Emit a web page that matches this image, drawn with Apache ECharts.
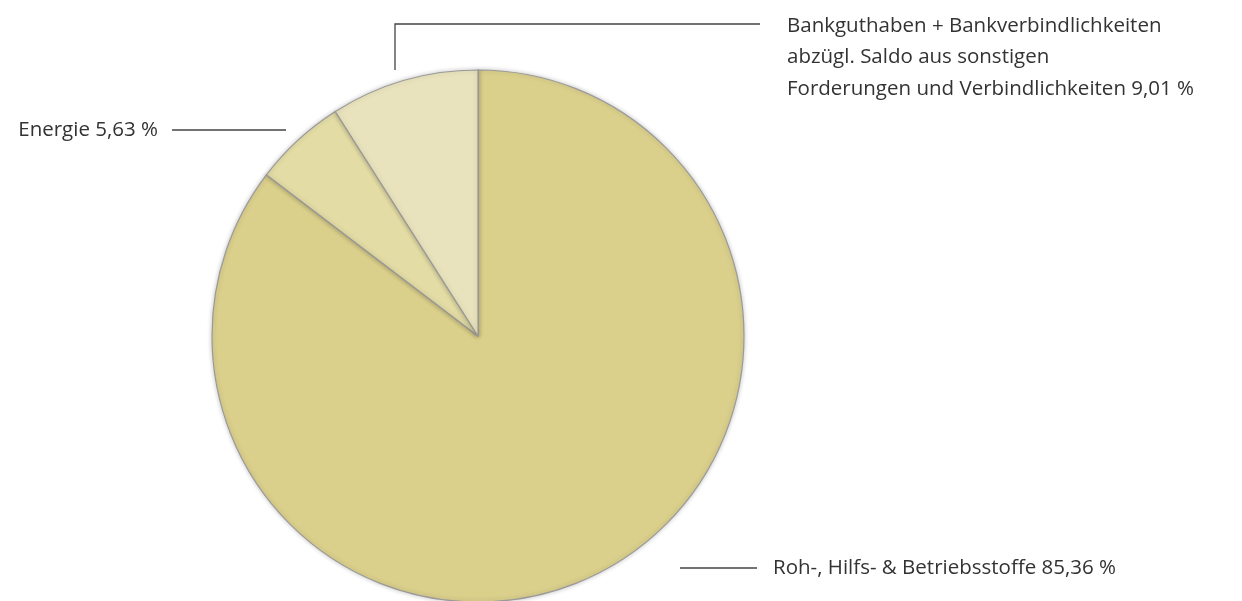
<!DOCTYPE html>
<html>
<head>
<meta charset="utf-8">
<script src="https://cdn.jsdelivr.net/npm/echarts@6/dist/echarts.min.js"></script>
<style>
  html, body { margin: 0; padding: 0; background: #fff; }
  #chart { width: 1242px; height: 601px; }
</style>
</head>
<body>
<div id="chart"></div>
<script>
const categories = [
  "Roh-, Hilfs- & Betriebsstoffe",
  "Energie",
  "Bankguthaben + Bankverbindlichkeiten\nabzügl. Saldo aus sonstigen\nForderungen und Verbindlichkeiten"
];
const shares = [85.36, 5.63, 9.01];
const sliceColors = ["#dacf8b", "#e4dca5", "#e9e3bd"];

// where each label sits
const labelPos = [
  { x: 773, y: 568, align: "left", verticalAlign: "middle" },
  { x: 158, y: 130, align: "right", verticalAlign: "middle" },
  { x: 787, y: 10, align: "left", verticalAlign: "top" }
];

const fmt = v => v.toFixed(2).replace(".", ",") + " %";

const chart = echarts.init(document.getElementById("chart"));
chart.setOption({
  animation: false,
  series: [
    {
      type: "pie",
      center: [478, 336],
      radius: 266,
      startAngle: 90,
      clockwise: true,
      itemStyle: {
        borderColor: "#9a9a9a",
        borderWidth: 1.2,
        shadowBlur: 5,
        shadowColor: "rgba(0,0,0,0.22)"
      },
      label: {
        show: true,
        color: "#333",
        fontFamily: "Open Sans",
        fontSize: 20.5,
        lineHeight: 31.5,
        overflow: "none",
        formatter: p => p.name + " " + fmt(p.value)
      },
      labelLine: { show: false },
      labelLayout: p => labelPos[p.dataIndex],
      emphasis: { disabled: true },
      data: categories.map((c, i) => ({
        name: c,
        value: shares[i],
        itemStyle: { color: sliceColors[i] }
      }))
    }
  ],
  graphic: [
    { type: "line", shape: { x1: 172, y1: 130, x2: 286, y2: 130 }, style: { stroke: "#444", lineWidth: 1.3 } },
    { type: "line", shape: { x1: 680, y1: 568, x2: 757, y2: 568 }, style: { stroke: "#444", lineWidth: 1.3 } },
    { type: "polyline", shape: { points: [[395, 70], [395, 24], [760, 24]] }, style: { stroke: "#444", lineWidth: 1.3, fill: null } }
  ]
});
</script>
</body>
</html>
